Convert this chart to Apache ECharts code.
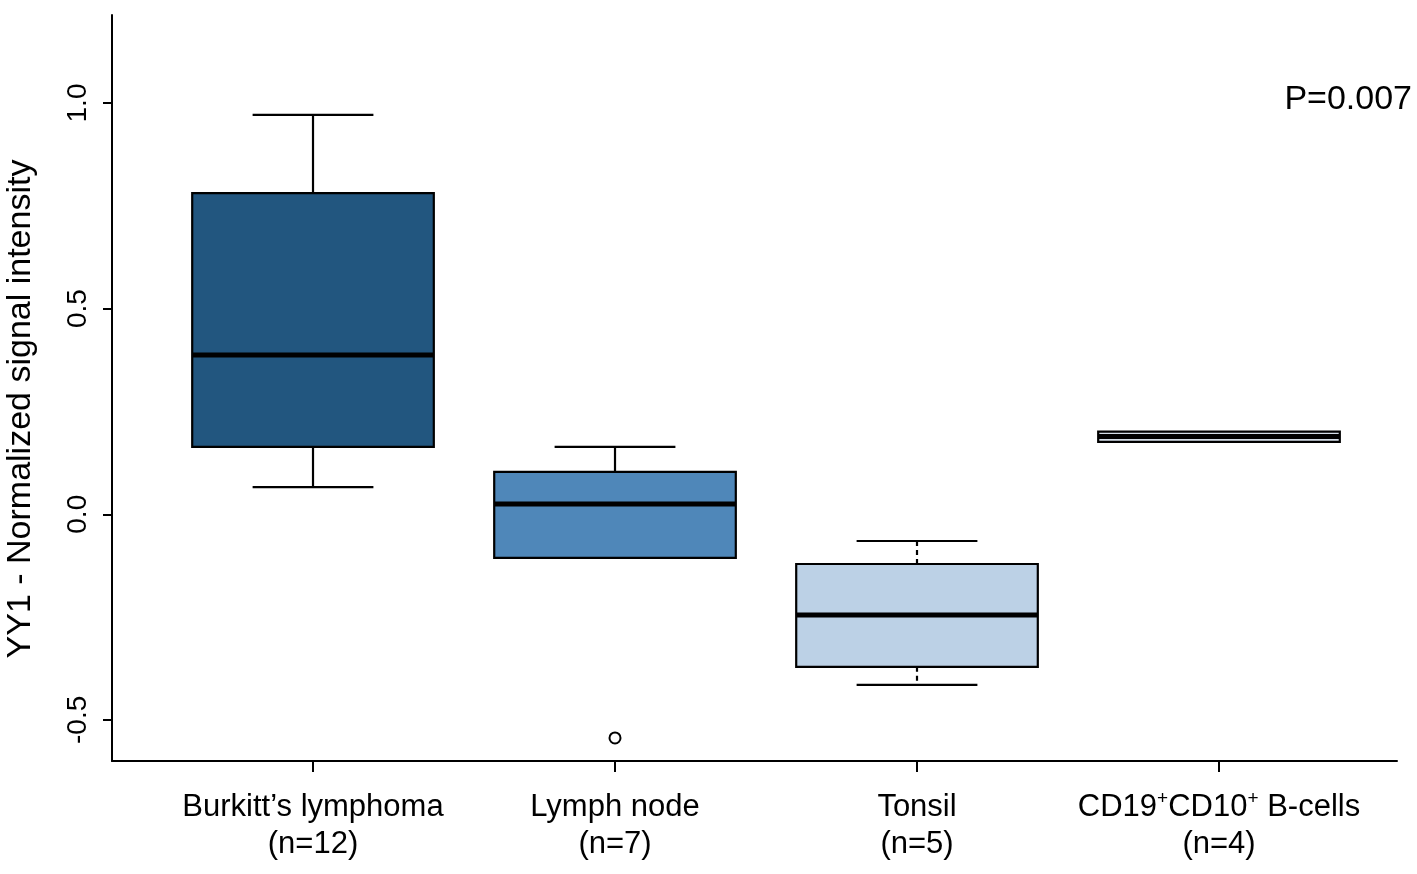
<!DOCTYPE html>
<html><head><meta charset="utf-8">
<script src="https://cdn.jsdelivr.net/npm/echarts@6/dist/echarts.min.js"></script>
<style>html,body{margin:0;padding:0;background:#fff}#c{width:1417px;height:874px}</style>
</head><body><div id="c"></div>
<script>
// ---- data ----
const categories = ["Burkitt’s lymphoma", "Lymph node", "Tonsil", "CD19+CD10+ B-cells"];
const groupSizes = [12, 7, 5, 4];
const lowerWhisker = [0.066, -0.106, -0.415, 0.176];
const q1 = [0.164, -0.106, -0.371, 0.176];
const median = [0.387, 0.025, -0.245, 0.189];
const q3 = [0.781, 0.103, -0.121, 0.201];
const upperWhisker = [0.971, 0.164, -0.065, 0.201];
const outlierGroup = [2];
const outlierValue = [-0.544];
const yTicks = [-0.5, 0.0, 0.5, 1.0];
const xTicks = [1, 2, 3, 4];
const pValueText = "P=0.007";

// ---- styles ----
const boxColors = ['#22567f', '#4f87b9', '#bcd1e6', '#d5dee8'];
const whiskerDashed = [false, false, true, false];
const BOX_HALF = 0.4, CAP_HALF = 0.2;
const FONT = "'Liberation Sans', Arial, sans-serif";

const boxData = categories.map((c, i) => [i + 1, lowerWhisker[i], q1[i], median[i], q3[i], upperWhisker[i]]);
const outlierData = outlierGroup.map((g, i) => [g, outlierValue[i]]);

function renderItem(params, api) {
  const i = params.dataIndex;
  const x = api.value(0);
  const lo = api.value(1), b1 = api.value(2), md = api.value(3), b3 = api.value(4), hi = api.value(5);
  const children = [];
  const wStyle = { stroke: '#000', lineWidth: 2.2, lineDash: whiskerDashed[i] ? [5, 4] : null };
  const capStyle = { stroke: '#000', lineWidth: 2.2 };
  function line(a, b, style) {
    return { type: 'line', shape: { x1: a[0], y1: a[1], x2: b[0], y2: b[1] }, style: style };
  }
  if (hi > b3) {
    children.push(line(api.coord([x, b3]), api.coord([x, hi]), wStyle));
    children.push(line(api.coord([x - CAP_HALF, hi]), api.coord([x + CAP_HALF, hi]), capStyle));
  }
  if (lo < b1) {
    children.push(line(api.coord([x, b1]), api.coord([x, lo]), wStyle));
    children.push(line(api.coord([x - CAP_HALF, lo]), api.coord([x + CAP_HALF, lo]), capStyle));
  }
  const tl = api.coord([x - BOX_HALF, b3]);
  const br = api.coord([x + BOX_HALF, b1]);
  children.push({ type: 'rect', shape: { x: tl[0], y: tl[1], width: br[0] - tl[0], height: br[1] - tl[1] },
    style: { fill: boxColors[i], stroke: '#000', lineWidth: 2.2 } });
  children.push(line(api.coord([x - BOX_HALF, md]), api.coord([x + BOX_HALF, md]), { stroke: '#000', lineWidth: 5 }));
  return { type: 'group', children: children };
}

function xLabel(v) {
  const i = Math.round(v) - 1;
  if (i < 0 || i >= categories.length) return '';
  const name = categories[i];
  let first;
  if (name.indexOf('+') >= 0) {
    const parts = name.split('+');
    first = parts.map((p, k) => (p ? '{t|' + p + '}' : '') + (k < parts.length - 1 ? '{s|+}' : '')).join('');
  } else {
    first = '{t|' + name + '}';
  }
  return first + '\n{t|(n=' + groupSizes[i] + ')}';
}

const chart = echarts.init(document.getElementById('c'));
chart.setOption({
  animation: false,
  backgroundColor: '#fff',
  textStyle: { fontFamily: FONT },
  grid: { left: 112, right: 20, top: 15, bottom: 113, containLabel: false },
  xAxis: {
    type: 'value', min: 0.3344, max: 4.5894,
    axisLine: { show: true, onZero: false, lineStyle: { color: '#000', width: 2 } },
    axisTick: { show: true, customValues: xTicks, length: 11, lineStyle: { color: '#000', width: 2 } },
    axisLabel: { customValues: xTicks, formatter: xLabel, margin: 28, color: '#000',
      rich: {
        t: { fontSize: 31, lineHeight: 37, color: '#000', fontFamily: FONT },
        s: { fontSize: 19, lineHeight: 37, verticalAlign: 'top', color: '#000', fontFamily: FONT }
      } },
    splitLine: { show: false }
  },
  yAxis: {
    type: 'value', min: -0.6, max: 1.214,
    axisLine: { show: true, onZero: false, lineStyle: { color: '#000', width: 2 } },
    axisTick: { show: true, customValues: yTicks, length: 9, lineStyle: { color: '#000', width: 2 } },
    axisLabel: { customValues: yTicks, rotate: 90, fontSize: 28, color: '#000', margin: 20, fontFamily: FONT,
      formatter: v => v.toFixed(1) },
    splitLine: { show: false }
  },
  graphic: [
    { type: 'text', x: 21, y: 409, rotation: Math.PI / 2,
      style: { text: 'YY1 - Normalized signal intensity', fontSize: 34, fontFamily: FONT, fill: '#000', align: 'center', verticalAlign: 'middle' } },
    { type: 'text', x: 1412, y: 100,
      style: { text: pValueText, fontSize: 34, fontFamily: FONT, fill: '#000', align: 'right', verticalAlign: 'middle' } }
  ],
  series: [
    { type: 'custom', renderItem: renderItem, data: boxData, encode: { x: 0, y: [1, 2, 3, 4, 5] }, clip: false },
    { type: 'scatter', data: outlierData, symbol: 'circle', symbolSize: 11,
      itemStyle: { color: '#fff', borderColor: '#000', borderWidth: 2, opacity: 1 } }
  ]
});
</script>
</body></html>
